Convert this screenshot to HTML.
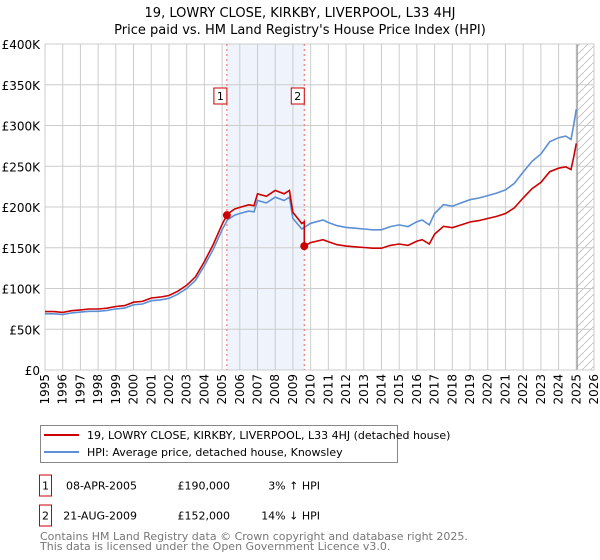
<!DOCTYPE html>
<html><head><meta charset="utf-8">
<style>
body{margin:0;background:#fff;font-family:"DejaVu Sans","Liberation Sans",sans-serif;}
#wrap{position:relative;width:600px;height:560px;overflow:hidden;}
svg text{font-family:"DejaVu Sans","Liberation Sans",sans-serif;}
</style></head>
<body>
<div id="wrap">
<svg id="chart" width="600" height="560"></svg>
</div>
<script>
const hpiYears=[1995,1995.5,1996,1996.5,1997,1997.5,1998,1998.5,1999,1999.5,2000,2000.5,2001,2001.5,2002,2002.5,2003,2003.3,2003.5,2004,2004.5,2005,2005.3,2005.7,2006,2006.5,2006.8,2007,2007.5,2008,2008.5,2008.8,2009,2009.5,2010,2010.7,2011,2011.5,2012,2012.5,2013,2013.5,2014,2014.5,2015,2015.5,2016,2016.3,2016.7,2017,2017.5,2018,2018.5,2019,2019.5,2020,2020.5,2021,2021.5,2022,2022.5,2023,2023.5,2024,2024.4,2024.7,2024.85,2025.0];
const hpiValues=[69,69,68,70,71,72,72,73,75,76,80,81,85,86,88,93,100,106,110,128,148,172,184,190,192,195,194,208,205,212,208,212,186,173,180,184,181,177,175,174,173,172,172,176,178,176,182,184,178,192,203,201,205,209,211,214,217,221,229,243,256,265,280,285,287,283,300,320];
const sales=[{n:"1",year:2005.27,price:190},{n:"2",year:2009.64,price:152}];
const yTicks=[0,50,100,150,200,250,300,350,400];
const yTickLabels=["£0","£50K","£100K","£150K","£200K","£250K","£300K","£350K","£400K"];
const xTicks=[1995,1996,1997,1998,1999,2000,2001,2002,2003,2004,2005,2006,2007,2008,2009,2010,2011,2012,2013,2014,2015,2016,2017,2018,2019,2020,2021,2022,2023,2024,2025,2026];

const NS="http://www.w3.org/2000/svg";
const svg=document.getElementById('chart');
const L=45,R=594,T=44,B=370,X0=1995,X1=2026,YMAX=400;
function xs(v){return L+(v-X0)/(X1-X0)*(R-L);}
function ys(v){return B-v/YMAX*(B-T);}
function el(tag,attrs,parent){const e=document.createElementNS(NS,tag);for(const k in attrs)e.setAttribute(k,attrs[k]);(parent||svg).appendChild(e);return e;}
function hpiAt(y){for(let i=0;i<hpiYears.length-1;i++){if(y<=hpiYears[i+1]){const t=(y-hpiYears[i])/(hpiYears[i+1]-hpiYears[i]);return hpiValues[i]+t*(hpiValues[i+1]-hpiValues[i]);}}return hpiValues[hpiValues.length-1];}

let t1=el('text',{x:300,y:17,'text-anchor':'middle','font-size':13,fill:'#000'});t1.textContent="19, LOWRY CLOSE, KIRKBY, LIVERPOOL, L33 4HJ";


let t2=el('text',{x:300,y:34,'text-anchor':'middle','font-size':13,fill:'#000'});t2.textContent="Price paid vs. HM Land Registry's House Price Index (HPI)";



let sh=el('rect',{x:xs(sales[0].year),y:T,width:xs(sales[1].year)-xs(sales[0].year),height:B-T,fill:'#eef3fc'});


const defs=el('defs',{});
const pat=el('pattern',{id:'hatch',width:8,height:8,patternUnits:'userSpaceOnUse'},defs);
el('path',{d:'M0,8 L8,0',stroke:'#bbb','stroke-width':0.8},pat);
let hx=xs(2025.05);
let hr=el('rect',{x:hx,y:T,width:R-hx,height:B-T,fill:'url(#hatch)'});



yTicks.forEach((v,i)=>{
  let g=el('line',{x1:L,x2:R,y1:ys(v),y2:ys(v),stroke:'#ccc','stroke-width':1});
  
  
  let tx=el('text',{x:40,y:ys(v)+5,'text-anchor':'end','font-size':12,fill:'#000'});tx.textContent=yTickLabels[i];
  
  
});
xTicks.forEach(v=>{
  let g=el('line',{x1:xs(v),x2:xs(v),y1:T,y2:B,stroke:'#ccc','stroke-width':1});
  
  
  let tx=el('text',{x:0,y:0,'text-anchor':'end','font-size':12,fill:'#000',transform:`translate(${xs(v)+4},${B+4}) rotate(-90)`});tx.textContent=v;
  
  
});
let vl=el('line',{x1:hx,x2:hx,y1:T,y2:B,stroke:'#999','stroke-width':1.2});


el('rect',{x:L,y:T,width:R-L,height:B-T,fill:'none',stroke:'#ccc'});

sales.forEach(s=>{
  let d=el('line',{x1:xs(s.year),x2:xs(s.year),y1:T,y2:B,stroke:'#e66','stroke-width':1,'stroke-dasharray':'2,3'});
  
  
});

let dp=hpiYears.map((y,i)=>(i?'L':'M')+xs(y).toFixed(1)+','+ys(hpiValues[i]).toFixed(1)).join(' ');
let hp=el('path',{d:dp,fill:'none',stroke:'#5b8fd6','stroke-width':1.6});



let pts=[];
const s0=sales[0],s1=sales[1];
hpiYears.forEach((y,i)=>{
  if(y<s1.year)pts.push([y,hpiValues[i]*s0.price/hpiAt(s0.year)]);
});
pts.push([s0.year,s0.price]);
pts.sort((a,b)=>a[0]-b[0]);
pts.push([s1.year,hpiAt(s1.year)*s0.price/hpiAt(s0.year)]);
pts.push([s1.year,s1.price]);
hpiYears.forEach((y,i)=>{if(y>s1.year)pts.push([y,hpiValues[i]*s1.price/hpiAt(s1.year)]);});
let rp=el('path',{d:pts.map((p,i)=>(i?'L':'M')+xs(p[0]).toFixed(1)+','+ys(p[1]).toFixed(1)).join(' '),fill:'none',stroke:'#cc0000','stroke-width':1.6});



sales.forEach(s=>{
  let c=el('circle',{cx:xs(s.year),cy:ys(s.price),r:4,fill:'#cc0000'});
  
  
  let bx=el('rect',{x:xs(s.year)-13,y:88,width:13,height:16,fill:'#fff',stroke:'#cc0000'});
  
  
  let tx=el('text',{x:xs(s.year)-6.5,y:100,'text-anchor':'middle','font-size':11,fill:'#000'});tx.textContent=s.n;
  
  
});

let lg=el('rect',{x:40.5,y:425.5,width:357,height:37,fill:'#fff',stroke:'#888'});


el('line',{x1:44,x2:79,y1:435,y2:435,stroke:'#cc0000','stroke-width':2});
el('line',{x1:44,x2:79,y1:452,y2:452,stroke:'#5b8fd6','stroke-width':2});
let l1=el('text',{x:87,y:439,'font-size':11,fill:'#000'});l1.textContent="19, LOWRY CLOSE, KIRKBY, LIVERPOOL, L33 4HJ (detached house)";


let l2=el('text',{x:87,y:456,'font-size':11,fill:'#000'});l2.textContent="HPI: Average price, detached house, Knowsley";



const rows=[["1","08-APR-2005","£190,000","3% ↑ HPI",485.5],["2","21-AUG-2009","£152,000","14% ↓ HPI",515.5]];
rows.forEach(r=>{
  let b=el('rect',{x:39.5,y:r[4]-10.5,width:12,height:21,fill:'none',stroke:'#cc0000'});
  
  
  let a=el('text',{x:45.5,y:r[4]+4,'text-anchor':'middle','font-size':11});a.textContent=r[0];
  let d=el('text',{x:137,y:r[4]+4,'text-anchor':'end','font-size':11});d.textContent=r[1];
  
  
  let p=el('text',{x:230,y:r[4]+4,'text-anchor':'end','font-size':11});p.textContent=r[2];
  
  
  let h=el('text',{x:320,y:r[4]+4,'text-anchor':'end','font-size':11});h.textContent=r[3];
  
  
});
let f1=el('text',{x:40,y:540,'font-size':11,fill:'#777'});f1.textContent="Contains HM Land Registry data © Crown copyright and database right 2025.";


let f2=el('text',{x:40,y:550,'font-size':11,fill:'#777'});f2.textContent="This data is licensed under the Open Government Licence v3.0.";


</script>
</body></html>
